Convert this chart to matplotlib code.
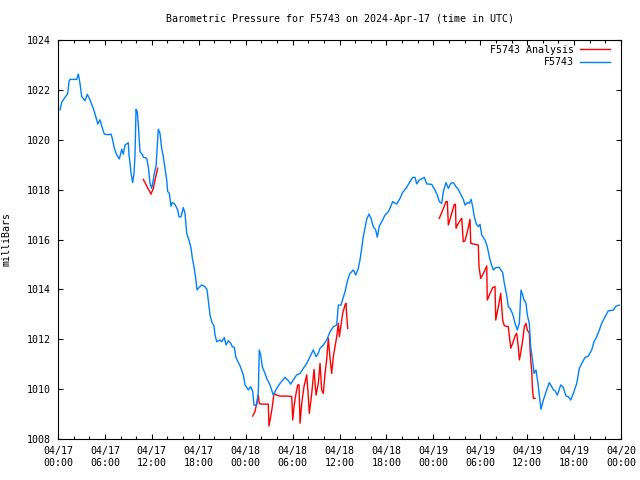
import numpy as np
import matplotlib
matplotlib.use("Agg")
import matplotlib.pyplot as plt
from matplotlib.ticker import MultipleLocator

plt.rcParams["font.family"] = "DejaVu Sans Mono"
plt.rcParams["font.size"] = 7.2

# hours since 2024-04-17 00:00 UTC
obs_hours = [0.26, 0.47, 0.90, 1.24, 1.41, 1.53, 2.39, 2.60, 2.81, 3.03, 3.45, 3.75, 4.09, 4.51,
             4.95, 5.08, 5.37, 5.67, 5.92, 6.43, 6.78, 6.94, 7.20, 7.51, 7.84, 8.15, 8.35, 8.57,
             8.99, 9.08, 9.21, 9.34, 9.55, 9.72, 9.85, 9.98, 10.14, 10.27, 10.49, 10.83, 10.91,
             11.34, 11.55, 11.77, 11.98, 12.11, 12.32, 12.53, 12.66, 12.83, 13.04, 13.26, 13.47,
             13.68, 13.90, 14.03, 14.23, 14.45, 14.62, 14.96, 15.31, 15.47, 15.73, 16.02, 16.24,
             16.46, 16.75, 17.01, 17.18, 17.39, 17.61, 17.78, 17.94, 18.38, 18.80, 19.06, 19.22,
             19.44, 19.66, 19.95, 20.08, 20.30, 20.72, 20.94, 21.27, 21.49, 21.78, 22.09, 22.29,
             22.55, 22.73, 22.85, 23.28, 23.70, 23.92, 24.34, 24.64, 24.90, 25.07, 25.41, 25.62,
             25.74, 25.92, 26.13, 26.47, 26.69, 27.11, 27.53, 27.97, 28.39, 29.03, 29.45, 29.76,
             30.09, 30.53, 30.95, 31.37, 31.81, 32.23, 32.65, 33.00, 33.29, 33.51, 33.93, 34.36,
             34.79, 35.21, 35.64, 35.85, 36.19, 36.70, 37.05, 37.34, 37.77, 38.07, 38.41, 38.62,
             38.84, 39.04, 39.26, 39.48, 39.77, 40.03, 40.32, 40.63, 40.83, 41.09, 41.40, 41.82,
             42.24, 42.55, 42.80, 43.32, 43.74, 44.08, 44.51, 44.93, 45.36, 45.66, 45.87, 46.21,
             46.51, 46.85, 47.15, 47.79, 48.21, 48.51, 48.76, 49.07, 49.28, 49.62, 49.92, 50.22,
             50.55, 50.90, 51.19, 51.50, 51.83, 52.05, 52.35, 52.60, 52.82, 53.03, 53.20, 53.46,
             53.75, 53.97, 54.19, 54.61, 54.90, 55.16, 55.38, 55.67, 56.02, 56.44, 56.87, 57.08,
             57.38, 57.59, 57.81, 58.15, 58.45, 58.74, 59.00, 59.21, 59.43, 59.60, 59.85, 60.02,
             60.27, 60.45, 60.71, 60.88, 61.13, 61.35, 61.55, 61.77, 62.07, 62.50, 62.83, 63.14,
             63.34, 63.56, 63.86, 64.29, 64.62, 64.97, 65.26, 65.57, 65.90, 66.34, 66.67, 66.98,
             67.40, 67.82, 68.25, 68.55, 68.89, 69.23, 69.53, 69.96, 70.38, 71.02, 71.36, 71.78]
obs_mb = [1021.20, 1021.50, 1021.70, 1021.85, 1022.33, 1022.42, 1022.42, 1022.64, 1022.26, 1021.73,
          1021.57, 1021.82, 1021.60, 1021.26, 1020.80, 1020.63, 1020.80, 1020.46, 1020.23, 1020.20,
          1020.23, 1020.06, 1019.66, 1019.39, 1019.23, 1019.62, 1019.42, 1019.79, 1019.88, 1019.39,
          1019.06, 1018.66, 1018.28, 1018.66, 1019.39, 1021.22, 1021.12, 1020.59, 1019.52, 1019.39,
          1019.30, 1019.26, 1018.92, 1018.25, 1018.05, 1018.25, 1018.66, 1018.92, 1019.59, 1020.42,
          1020.26, 1019.66, 1019.32, 1018.86, 1018.39, 1017.92, 1017.86, 1017.33, 1017.48, 1017.41,
          1017.18, 1016.91, 1016.91, 1017.28, 1017.05, 1016.25, 1015.98, 1015.65, 1015.25, 1014.91,
          1014.44, 1013.98, 1014.04, 1014.18, 1014.11, 1013.98, 1013.57, 1012.97, 1012.70, 1012.53,
          1012.17, 1011.90, 1011.97, 1011.90, 1012.07, 1011.77, 1011.94, 1011.84, 1011.70, 1011.68,
          1011.30, 1011.20, 1010.93, 1010.57, 1010.17, 1009.97, 1010.10, 1009.90, 1009.36, 1009.36,
          1009.90, 1011.57, 1011.37, 1010.90, 1010.63, 1010.43, 1010.17, 1009.76, 1010.03, 1010.23,
          1010.47, 1010.34, 1010.20, 1010.37, 1010.57, 1010.63, 1010.83, 1011.03, 1011.30, 1011.57,
          1011.30, 1011.44, 1011.64, 1011.77, 1011.97, 1012.30, 1012.50, 1012.57, 1013.37, 1013.37,
          1013.90, 1014.38, 1014.64, 1014.78, 1014.58, 1014.84, 1015.18, 1015.65, 1016.11, 1016.45,
          1016.81, 1017.02, 1016.85, 1016.51, 1016.38, 1016.09, 1016.54, 1016.71, 1016.98, 1017.11,
          1017.32, 1017.52, 1017.42, 1017.65, 1017.89, 1018.05, 1018.28, 1018.49, 1018.49, 1018.23,
          1018.39, 1018.43, 1018.49, 1018.23, 1018.21, 1017.98, 1017.78, 1017.52, 1017.45, 1017.92,
          1018.28, 1018.05, 1018.25, 1018.28, 1018.12, 1018.01, 1017.82, 1017.61, 1017.38, 1017.48,
          1017.45, 1017.61, 1017.32, 1016.98, 1016.65, 1016.51, 1016.61, 1016.18, 1015.98, 1015.71,
          1015.31, 1015.04, 1014.78, 1014.88, 1014.88, 1014.67, 1014.24, 1013.77, 1013.30, 1013.24,
          1013.01, 1012.64, 1012.37, 1012.64, 1013.97, 1013.77, 1013.57, 1013.46, 1012.97, 1012.64,
          1011.70, 1011.10, 1010.63, 1010.77, 1010.30, 1009.76, 1009.19, 1009.56, 1009.97, 1010.26,
          1010.10, 1009.97, 1009.94, 1009.76, 1010.17, 1010.07, 1009.72, 1009.70, 1009.56, 1009.83,
          1010.23, 1010.83, 1011.03, 1011.27, 1011.32, 1011.57, 1011.90, 1012.10, 1012.37, 1012.64,
          1012.90, 1013.14, 1013.17, 1013.33, 1013.37]

# analysis runs, nan separates the three runs
ana_hours = [10.91, 11.89, 12.19, 12.41, 12.75, np.nan,
             24.90, 25.19, 25.41, 25.62, 25.74, 25.92, 26.89, 26.98, 27.20, 27.41, 27.62, 27.97,
             28.39, 29.45, 29.89, 30.02, 30.18, 30.44, 30.66, 30.82, 30.95, 31.17, 31.46, 31.81,
             32.01, 32.14, 32.45, 32.74, 33.00, 33.29, 33.51, 33.72, 33.93, 34.15, 34.36, 34.57,
             34.79, 35.00, 35.21, 35.43, 35.64, 35.85, 35.98, 36.19, 36.41, 36.70, 36.83, 36.92,
             37.05, np.nan,
             48.76, 49.20, 49.62, 49.79, 49.92, 50.35, 50.68, 50.83, 50.90, 51.19, 51.63, 51.83,
             52.05, 52.35, 52.69, 52.78, 53.11, 53.75, 53.84, 54.06, 54.40, 54.83, 54.90, 55.25,
             55.59, 55.89, 55.98, 56.31, 56.62, 56.87, 57.08, 57.59, 57.90, 58.15, 58.45, 58.66,
             58.87, 59.00, 59.17, 59.43, 59.64, 59.85, 60.02, 60.27, 60.45, 60.58, 60.66, 60.79,
             61.01]
ana_mb = [1018.41, 1017.82, 1018.05, 1018.39, 1018.86, np.nan,
          1008.92, 1009.10, 1009.43, 1009.76, 1009.43, 1009.40, 1009.40, 1008.52, 1008.90, 1009.30,
          1009.83, 1009.76, 1009.72, 1009.72, 1009.70, 1008.76, 1009.30, 1009.83, 1010.17, 1010.17,
          1008.63, 1009.43, 1010.10, 1010.57, 1009.70, 1009.03, 1009.83, 1010.79, 1009.76, 1010.23,
          1011.03, 1009.97, 1009.83, 1010.63, 1011.17, 1012.04, 1011.24, 1010.63, 1011.30, 1011.70,
          1012.10, 1012.64, 1012.10, 1012.57, 1013.04, 1013.37, 1013.44, 1012.97, 1012.44, np.nan,
          1016.85, 1017.18, 1017.52, 1017.52, 1016.58, 1017.05, 1017.41, 1017.41, 1016.45, 1016.65,
          1016.85, 1015.91, 1015.95, 1016.31, 1016.81, 1015.85, 1015.82, 1015.78, 1014.91, 1014.44,
          1014.64, 1014.94, 1013.57, 1013.84, 1014.07, 1014.11, 1012.77, 1013.30, 1013.84, 1012.77,
          1012.54, 1012.50, 1011.64, 1011.84, 1012.13, 1012.24, 1011.70, 1011.17, 1011.44, 1011.97,
          1012.50, 1012.64, 1012.37, 1012.24, 1011.17, 1010.77, 1010.10, 1009.63, 1009.63]

tick_hours = list(range(0, 73, 6))
tick_labels = ["04/17\n00:00", "04/17\n06:00", "04/17\n12:00", "04/17\n18:00",
               "04/18\n00:00", "04/18\n06:00", "04/18\n12:00", "04/18\n18:00",
               "04/19\n00:00", "04/19\n06:00", "04/19\n12:00", "04/19\n18:00",
               "04/20\n00:00"]

fig = plt.figure(figsize=(6.4, 4.8), dpi=100)
ax = fig.add_axes([58 / 640, 1 - 439 / 480, 563 / 640, 399 / 480])

ax.plot(ana_hours, ana_mb, color="#ff0000", lw=1.0, label="F5743 Analysis")
ax.plot(obs_hours, obs_mb, color="#0080ff", lw=1.0, label="F5743")

ax.set_xlim(0, 72)
ax.set_ylim(1008, 1024)
ax.set_xticks(tick_hours)
ax.set_xticklabels(tick_labels)
ax.xaxis.set_minor_locator(MultipleLocator(2))
ax.yaxis.set_major_locator(MultipleLocator(2))

ax.tick_params(which="both", direction="in", top=True, right=True, width=0.8, colors="black")
ax.tick_params(which="major", length=3.5, pad=5)
ax.tick_params(which="minor", length=2.2)
for s in ax.spines.values():
    s.set_linewidth(0.8)

ax.set_ylabel("milliBars")
ax.yaxis.set_label_coords(-46 / 563, 0.5)
fig.text(0.5305, 1 - 19 / 480, "Barometric Pressure for F5743 on 2024-Apr-17 (time in UTC)",
         ha="center", va="center")

ax.legend(loc="upper right", bbox_to_anchor=(1 - 11 / 563, 1 - 5 / 399), frameon=False,
          markerfirst=False, handlelength=3.0, handletextpad=0.6, labelspacing=0.25,
          borderaxespad=0, borderpad=0)

fig.savefig("out.png", dpi=100)
